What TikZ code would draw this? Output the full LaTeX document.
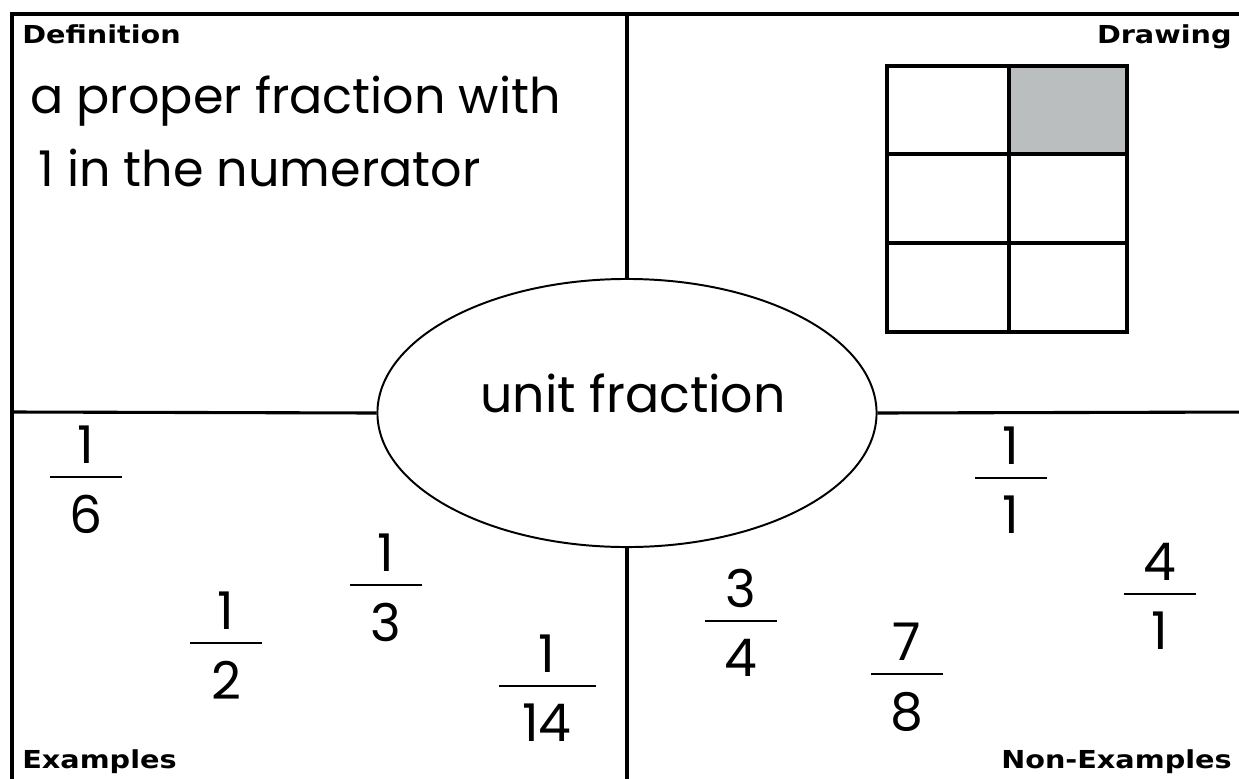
\documentclass[tikz,border=0pt]{standalone}
\usepackage{fontspec}
\setmainfont{Poppins}
\newfontfamily\labelfont[FakeStretch=1.16]{DejaVu Sans Bold}
\usepackage{xcolor}
\usetikzlibrary{positioning,shapes.geometric}
\definecolor{cellgray}{RGB}{187,190,190}

\begin{document}
\begin{tikzpicture}[
  x=0.025cm, y=-0.025cm,
  hand/.style={font=\fontsize{35}{42}\selectfont, inner sep=0pt},
  corner/.style={font=\labelfont\fontsize{17.6}{20}\selectfont, inner sep=0pt},
  frame/.style={line width=2.8pt},
  divider/.style={line width=2.2pt},
  bar/.style={fill=black, inner sep=0pt, minimum height=1.8pt},
  digit/.style={font=\fontsize{37}{44}\selectfont, inner sep=0pt}
]
  \useasboundingbox (0,0) rectangle (1239,778);

  % outer frame and quadrants
  \draw[frame] (12,800) -- (12,14) -- (1260,14);
  \node[ellipse, draw, line width=1.4pt, minimum width=12.475cm,
        minimum height=6.7cm, hand, font=\fontsize{36}{42}\selectfont,
        text depth=1cm] (term) at (627,413) {\hspace*{0.3cm}unit fraction};
  \draw[divider] (627,14) -- (term.north);
  \draw[divider] (term.south) -- (627,800);
  \draw[divider] (12,412) -- (term.west);
  \draw[divider] (term.east) -- (1260,412);

  % corner labels
  \node[corner, anchor=base west] (defl) at (22,43) {Definition};
  \node[corner, anchor=base east] (drwl) at (1232,43) {Drawing};
  \node[corner, anchor=base west] (exl) at (22,768) {Examples};
  \node[corner, anchor=base east] (nexl) at (1232,768) {Non-Examples};

  % definition
  \node[hand, anchor=base west] (def1) at (30,113) {a proper fraction with};
  \node[hand, anchor=base west] (def2) at (38,186) {1 in the numerator};

  % drawing: one sixth shaded
  \fill[cellgray] (1009,66) rectangle (1127,154);
  \draw[divider] (887,66) rectangle (1127,332);
  \draw[divider] (1009,66) -- (1009,332);
  \foreach \y in {154,243}
    \draw[divider] (887,\y) -- (1127,\y);

  % examples and non-examples
  \foreach \nm/\x/\y/\n/\d/\w in {f16/86/477/1/6/72, f12/226/643/1/2/72,
      f13/386/585/1/3/72, f114/547/686/1/14/97, f34/741/621/3/4/72,
      f78/907/674/7/8/72, f11/1011/478/1/1/72, f41/1160/594/4/1/72}{
    \node[bar, minimum width=\w*0.025cm] (\nm) at (\x,\y) {};
    \node[digit, above=0.28cm of \nm] (\nm-n) {\n};
    \node[digit, below=0.4cm of \nm] (\nm-d) {\d};
  }
\end{tikzpicture}
\end{document}
